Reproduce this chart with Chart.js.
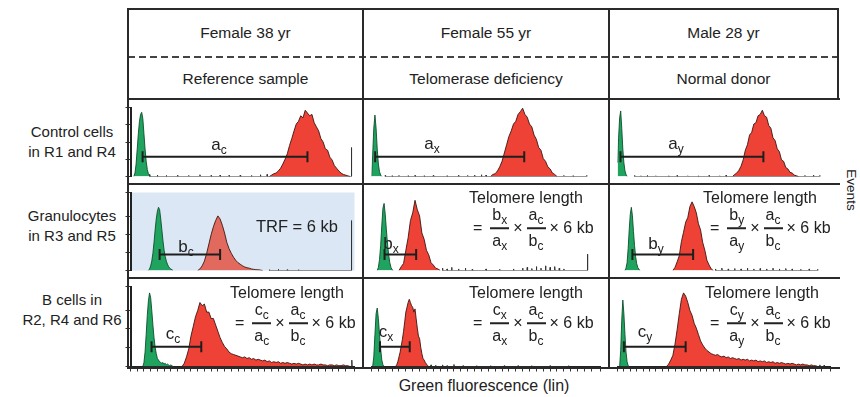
<!DOCTYPE html>
<html><head><meta charset="utf-8">
<script src="https://cdn.jsdelivr.net/npm/chart.js@4/dist/chart.umd.min.js"></script>
<style>
html,body{margin:0;padding:0;background:#fff;overflow:hidden}
body{width:860px;height:397px;position:relative;font-family:"Liberation Sans",Arial,Helvetica,sans-serif;color:#222}
.hl{position:absolute;height:2px;background:#2a2a2a;z-index:3}
.vl{position:absolute;width:2px;background:#2a2a2a;z-index:3}
.dash{position:absolute;height:1.5px;background:repeating-linear-gradient(90deg,#444 0 7px,transparent 7px 11px);z-index:3}
.ctr{position:absolute;transform:translate(-50%,-50%);white-space:nowrap;z-index:4}
canvas{position:absolute;z-index:1}
.lab{font-size:17px;line-height:17px}
sub{font-size:12px;vertical-align:-4px;line-height:0}
.formula{position:absolute;display:flex;align-items:center;font-size:16px;white-space:nowrap;transform:translateY(-50%);z-index:4}
.frac{display:inline-flex;flex-direction:column;align-items:center;margin:0 2px}
.nu{display:block;height:22px;line-height:22px;margin-bottom:1px;padding:0 2px}
.de{display:block;height:22px;line-height:22px;margin-top:1px;padding:0 2px}
.fb{display:block;height:1.5px;background:#222;align-self:stretch}
.op{margin:0 2px}
</style></head><body>
<script>
// ---------- text data ----------
const columnTitles = ["Female 38 yr", "Female 55 yr", "Male 28 yr"];
const columnSubtitles = ["Reference sample", "Telomerase deficiency", "Normal donor"];
const rowLabels = [["Control cells", "in R1 and R4"], ["Granulocytes", "in R3 and R5"], ["B cells in", "R2, R4 and R6"]];
const xAxisTitle = "Green fluorescence (lin)";
const yAxisTitle = "Events";
const trfText = "TRF = 6 kb";
const formulaTitle = "Telomere length";

// ---------- histogram data (channel 0-100, relative events 0-100) ----------
const greenStep = 0.5;
const greenStart = [1.5, 0, 0, 8, 2.5, 3.5, 5.5, 0.5, 1];
const redStart = [62, 52, 54, 30, 12, 26, 23, 10.5, 23];
const redStep = [1, 1, 1, 1, 1, 1, 1, 0.5, 1];

const green1 = [0,5,18,40,62,80,90,93,84,62,40,22,10,4,2,0];
const green2 = [0,30,70,89,70,40,18,7,2,0];
const green3 = [20,55,85,95,70,40,20,8,3,0];
const green4 = [0,2,6,12,22,36,52,66,76,81,78,66,52,38,26,18,12,8,5,3,2,1,0];
const green5 = [0,4,14,32,58,80,86,72,52,34,20,10,4,1,0];
const green6 = [0,3,10,28,52,72,81,70,50,32,18,9,4,2,0];
const green7 = [0,5,18,40,64,82,92,86,70,52,36,24,16,10,8,6,5,4,5,3,4,2,3,2,1,2,1,0];
const green8 = [0,12,40,66,73,60,40,22,8,2,0];
const green9 = [0,20,58,83,66,40,18,6,1,0];

const red1 = [0,2,4,5,8,12,18,25,33,45,55,66,76,80,88,85,96,92,88,90,78,72,66,55,50,40,38,28,24,16,12,8,5,3,2,1,0];
const red2 = [0,3,4,8,14,22,34,46,58,66,76,80,90,94,99,90,86,76,72,60,54,42,38,26,22,14,11,5,3,0];
const red3 = [0,3,5,9,15,24,38,46,60,64,76,78,88,90,96,88,86,74,70,56,52,40,36,24,22,13,11,6,5,2,1,0];
const red4 = [0,2,6,12,22,34,46,56,64,70,66,58,48,36,28,22,17,13,10,8,6,4.5,3.5,3,2,1.5,1,1,0.5,0];
const red5 = [0,5,9,26,42,64,74,90,78,70,48,40,26,20,10,7,3,2,0];
const red6 = [0,4,11,19,37,49,62,68,82,88,82,74,60,52,36,26,13,7,2,0];
const red7 = [0,4,12,22,38,50,62,70,80,76,78,68,68,60,60,52,44,36,30,25,22,18,16,15,14,13,12,11,12,10,11,9,10,8,9,8,7,8,6,7,5,6,5,6,4,5,4,5,4,3,4,3,4,3,2,3,2,3,2,3,2,2,3,2,2,1,2,2,1,2,1,1,2,1,1,0];
const red8 = [0,2,6,12,18,26,34,44,56,68,74,80,84,80,76,74,68,72,60,48,38,35,24,16,10,8,5,3,1,0];
const red9 = [0,3,8,14,28,46,66,84,92,88,80,70,64,54,48,40,32,27,23,20,18,16,15,14,15,13,12,13,11,12,10,11,10,9,10,8,9,8,9,7,8,7,8,6,7,6,7,5,6,5,6,4,5,4,5,4,3,4,3,4,3,2,3,2,3,2,2,1,2,1,1,0];

// debris / off-scale events: [channel, height]
const spikes1 = [[8.5,3],[12,2],[16,1.5],[21,2],[26,1.5],[31,2.5],[36,1.5],[40,2],[44,1.5],[49,2],[54,1.5],[58,2.5],[61,3],[98.6,42]];
const spikes2 = [[6,1.5],[9,1],[12,1.5],[16,1],[19,1.5],[23,1],[27,1.5],[33,1],[38,2],[42,1.5],[45,2],[48,2.5],[50,2],[84,1.5],[88,1],[94,1.5]];
const spikes3 = [[8,1.5],[11,1],[14,1.5],[18,1],[24,1],[28,1.5],[33,1],[38,1],[43,1.5],[48,1],[51,2],[88,1.5],[92,2],[95,1.5]];
const spikes4 = [[62,1],[66,1.5],[70,1],[75,1],[98.6,64]];
const spikes5 = [[31,3],[33,2],[35,4],[38,2],[41,3],[44,1.5],[50,2],[56,1.5],[62,2],[66,3],[68,4],[70,2.5],[72,5],[74,3],[76,6],[78,4],[80,5],[82,3],[84,2],[94.3,21]];
const spikes6 = [[46,2],[49,3],[52,2],[55,2.5],[58,2],[61,3],[64,2],[67,2.5],[70,2],[73,3],[76,2],[79,2.5],[82,2],[86,1.5],[90,2],[94,1.5]];
const spikes7 = [[98.8,8]];
const spikes8 = [[26,2],[28,1.5],[31,2],[33,1],[36,2.5],[40,1],[46,1],[52,1],[58,1],[64,1],[70,1],[78,1],[86,1]];
const spikes9 = [[95,2],[97,1.5]];

// peak-to-peak distance bars
const barFrom = [5.4, 1.6, 1.4, 13, 5.7, 7, 9.4, 3.7, 3];
const barTo = [79, 66.7, 68.5, 40, 19.5, 35.5, 31.6, 16.7, 32];
const barY = [28.5, 28.5, 28.5, 20.4, 20.4, 20.4, 24.7, 24.7, 24.7];
const barLetter = ["a","a","a","b","b","b","c","c","c"];
const barSub = ["c","x","y","c","x","y","c","x","y"];

const greens = [green1,green2,green3,green4,green5,green6,green7,green8,green9];
const reds = [red1,red2,red3,red4,red5,red6,red7,red8,red9];
const spikes = [spikes1,spikes2,spikes3,spikes4,spikes5,spikes6,spikes7,spikes8,spikes9];

// ---------- layout ----------
const colX = [[129,362],[364,608],[610,838]];
const rowY = [[100,184],[185,278],[279,368]];
const yStep = [25, 23, 23.5];
const labelPos = [[219,144],[432,143],[676,143],[186,246],[391,243],[656,243],[173,333],[386,331],[645,331]];

function el(tag, cls, style, html){
  const e = document.createElement(tag);
  if (cls) e.className = cls;
  if (style) e.style.cssText = style;
  if (html !== undefined) e.innerHTML = html;
  document.body.appendChild(e);
  return e;
}

// frame
el('div','hl','left:128px;top:8px;width:711px;');
el('div','dash','left:128px;top:56px;width:711px;');
el('div','hl','left:128px;top:98px;width:712px;');
el('div','hl','left:128px;top:183px;width:712px;');
el('div','hl','left:128px;top:277px;width:712px;');
el('div','hl','left:128px;top:367px;width:712px;');
el('div','vl','left:127px;top:8px;height:361px;');
el('div','vl','left:362px;top:8px;height:361px;');
el('div','vl','left:608px;top:8px;height:361px;');
el('div','vl','left:837px;top:8px;height:92px;');

// header texts
const colCenters = [245.5, 486, 723.5];
columnTitles.forEach((t,i)=> el('div','ctr',`left:${colCenters[i]}px;top:33px;font-size:15.5px;`, t));
columnSubtitles.forEach((t,i)=> el('div','ctr',`left:${colCenters[i]}px;top:79px;font-size:15.5px;`, t));
// row labels
const rowCenters = [141, 225, 309];
rowLabels.forEach((l,i)=> el('div','ctr',`left:72px;top:${rowCenters[i]}px;font-size:15px;line-height:19.5px;text-align:center;`, l.join('<br>')));
// axis titles
el('div','ctr','left:484px;top:386px;font-size:16px;', xAxisTitle);
el('div','ctr','left:851px;top:190px;font-size:13.5px;transform:translate(-50%,-50%) rotate(90deg);', yAxisTitle);

// bar labels
labelPos.forEach((p,i)=> el('div','ctr lab',`left:${p[0]}px;top:${p[1]}px;`, `${barLetter[i]}<sub>${barSub[i]}</sub>`));
el('div','ctr',`left:297px;top:226px;font-size:16.5px;`, trfText);

// formulas
function frac(n, ns, d, ds){
  return `<span class="frac"><span class="nu">${n}<sub>${ns}</sub></span><span class="fb"></span><span class="de">${d}<sub>${ds}</sub></span></span>`;
}
const formulaPanels = [
  {title:[526,198], left:471, y:228, n:"b", ns:"x", d:"a", ds:"x"},
  {title:[760,198], left:708, y:228, n:"b", ns:"y", d:"a", ds:"y"},
  {title:[287,293], left:233, y:323, n:"c", ns:"c", d:"a", ds:"c"},
  {title:[526,293], left:471, y:323, n:"c", ns:"x", d:"a", ds:"x"},
  {title:[762,293], left:708, y:323, n:"c", ns:"y", d:"a", ds:"y"}
];
formulaPanels.forEach(f=>{
  el('div','ctr',`left:${f.title[0]}px;top:${f.title[1]}px;font-size:16px;`, formulaTitle);
  el('div','formula',`left:${f.left}px;top:${f.y}px;`,
    `<span class="op" style="margin-right:6px">=</span>${frac(f.n,f.ns,f.d,f.ds)}<span class="op">×</span>${frac("a","c","b","c")}<span class="op">× 6 kb</span>`);
});

// ---------- charts ----------
const bgPlugin = {
  id:'panelBg',
  beforeDraw(chart, args, opts){
    if (!opts.color) return;
    const a = chart.chartArea, ctx = chart.ctx;
    ctx.save(); ctx.fillStyle = opts.color;
    ctx.fillRect(a.left, a.top, a.right - a.left, a.bottom - a.top);
    ctx.restore();
  }
};

function series(start, step, vals){ return vals.map((v,i)=>({x:start + i*step, y:v})); }
function spikeSeries(list){
  const pts = [];
  list.forEach(([x,h])=>{ pts.push({x:x-0.15,y:0}); pts.push({x:x,y:h}); pts.push({x:x+0.15,y:0}); });
  return pts;
}

for (let r=0;r<3;r++){
  for (let c=0;c<3;c++){
    const i = r*3+c;
    const padL = c===0 ? 6 : 0;
    const padB = r===2 ? 6 : 0;
    const w = colX[c][1]-colX[c][0] + padL;
    const h = rowY[r][1]-rowY[r][0] + padB;
    const cv = document.createElement('canvas');
    cv.width = w; cv.height = h;
    cv.style.left = (colX[c][0]-padL)+'px';
    cv.style.top = rowY[r][0]+'px';
    cv.style.width = w+'px'; cv.style.height = h+'px';
    document.body.appendChild(cv);
    const isBlue = (i===3);
    new Chart(cv, {
      type:'line',
      plugins:[bgPlugin],
      data:{datasets:[
        {label:'bar', data:[{x:barFrom[i],y:barY[i]},{x:barTo[i],y:barY[i]}], borderColor:'#1e1e1e', borderWidth:2,
          pointStyle:'line', pointRadius:5.5, pointRotation:90, pointBorderWidth:2, pointBorderColor:'#1e1e1e', fill:false, order:0},
        {label:'spikes', data:spikeSeries(spikes[i]), borderColor:'#333', borderWidth:1, pointRadius:0, fill:false, order:1},
        {label:'red', data:series(redStart[i], redStep[i], reds[i]), backgroundColor: isBlue ? '#e2695d' : '#ee4236',
          borderColor:'#3b1612', borderWidth:0.9, pointRadius:0, fill:'origin', order:2},
        {label:'green', data:series(greenStart[i], greenStep, greens[i]), backgroundColor:'#1fa35f',
          borderColor:'#0c4f2c', borderWidth:0.9, pointRadius:0, fill:'origin', order:3}
      ]},
      options:{
        responsive:false, animation:false, events:[],
        layout:{padding:0},
        plugins:{legend:{display:false}, tooltip:{enabled:false}, panelBg:{color: isBlue ? '#dbe7f4' : null}},
        scales:{
          x:{type:'linear', min:0, max:100, display: r===2,
             grid:{drawOnChartArea:false, drawTicks:true, tickLength:5, color:'#333', lineWidth:1},
             border:{display:true, color:'#222', width:2},
             ticks:{display:false, stepSize:3},
             afterFit(s){ s.height = padB; }},
          y:{type:'linear', min:0, max:100, display: c===0,
             grid:{drawOnChartArea:false, drawTicks:true, tickLength:5, color:'#333', lineWidth:1},
             border:{display:true, color:'#222', width:2},
             ticks:{display:false, stepSize:yStep[r]},
             afterFit(s){ s.width = padL; }}
        }
      }
    });
  }
}
</script>
</body></html>
